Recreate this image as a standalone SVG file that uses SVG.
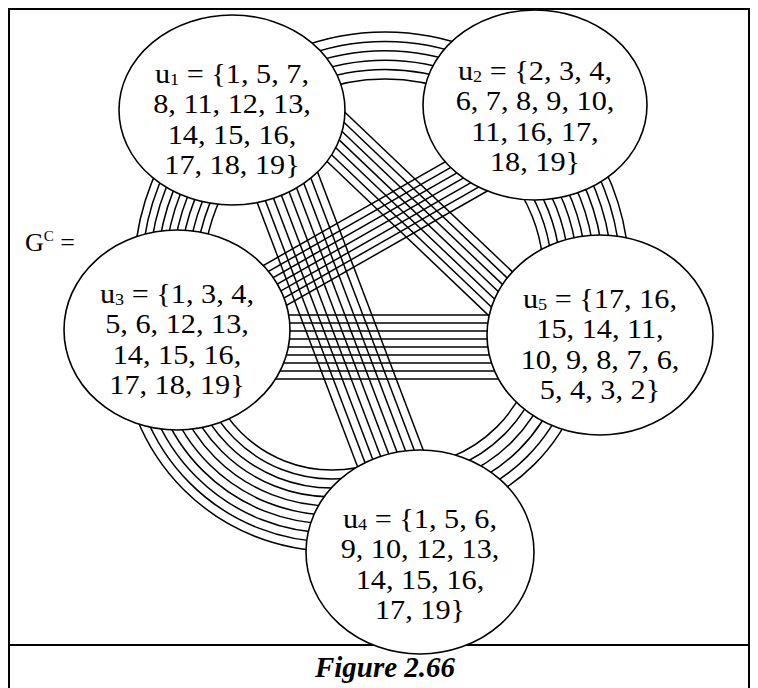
<svg xmlns="http://www.w3.org/2000/svg" width="758" height="688" viewBox="0 0 758 688">
<style>
.frame{fill:none;stroke:#000;stroke-width:2}
.node{fill:#fff;stroke:#000;stroke-width:1.6}
.e{fill:none;stroke:#000;stroke-width:1.5}
.t{font-family:"Liberation Serif","Times New Roman",serif;font-size:27.5px;fill:#000;text-anchor:middle}
.s{font-size:16.5px}
.cap{font-family:"Liberation Serif","Times New Roman",serif;font-size:29px;font-weight:bold;font-style:italic;fill:#000;text-anchor:middle}
.lbl{font-family:"Liberation Serif","Times New Roman",serif;font-size:26px;fill:#000}
</style>
<defs>
<clipPath id="cA"><rect x="0" y="0" width="758" height="140"/></clipPath>
<clipPath id="cB"><rect x="0" y="150" width="250" height="120"/></clipPath>
<clipPath id="cC"><rect x="520" y="150" width="238" height="135"/></clipPath>
<clipPath id="cD"><rect x="0" y="400" width="380" height="288"/></clipPath>
<clipPath id="cE"><rect x="440" y="390" width="318" height="298"/></clipPath>
</defs>
<rect x="0" y="0" width="758" height="688" fill="#fff"/>
<g id="frame">
<rect class="frame" x="9" y="9" width="740" height="690"/>
<line class="frame" x1="9" y1="645" x2="749" y2="645"/>
</g>
<g id="connectors">
<g id="e-u1-u2" clip-path="url(#cA)">
<circle class="e" cx="385" cy="275" r="243"/>
<circle class="e" cx="385" cy="275" r="233.6"/>
<circle class="e" cx="385" cy="275" r="224.2"/>
<circle class="e" cx="385" cy="275" r="214.8"/>
<circle class="e" cx="385" cy="275" r="205.4"/>
<circle class="e" cx="385" cy="275" r="196"/>
</g>
<g id="e-u1-u3" clip-path="url(#cB)">
<circle class="e" cx="385" cy="275" r="181.5"/>
<circle class="e" cx="385" cy="275" r="189.2"/>
<circle class="e" cx="385" cy="275" r="196.9"/>
<circle class="e" cx="385" cy="275" r="204.7"/>
<circle class="e" cx="385" cy="275" r="212.4"/>
<circle class="e" cx="385" cy="275" r="220.1"/>
<circle class="e" cx="385" cy="275" r="227.8"/>
<circle class="e" cx="385" cy="275" r="235.6"/>
<circle class="e" cx="385" cy="275" r="243.3"/>
<circle class="e" cx="385" cy="275" r="251"/>
</g>
<g id="e-u2-u5" clip-path="url(#cC)">
<circle class="e" cx="385" cy="275" r="158.5"/>
<circle class="e" cx="385" cy="275" r="167.05"/>
<circle class="e" cx="385" cy="275" r="175.6"/>
<circle class="e" cx="385" cy="275" r="184.15"/>
<circle class="e" cx="385" cy="275" r="192.7"/>
<circle class="e" cx="385" cy="275" r="201.25"/>
<circle class="e" cx="385" cy="275" r="209.8"/>
<circle class="e" cx="385" cy="275" r="218.35"/>
<circle class="e" cx="385" cy="275" r="226.9"/>
<circle class="e" cx="385" cy="275" r="235.45"/>
<circle class="e" cx="385" cy="275" r="244"/>
</g>
<g id="e-u3-u4" clip-path="url(#cD)">
<circle class="e" cx="332" cy="341" r="129"/>
<circle class="e" cx="332" cy="341" r="138"/>
<circle class="e" cx="332" cy="341" r="147"/>
<circle class="e" cx="332" cy="341" r="156"/>
<circle class="e" cx="332" cy="341" r="165"/>
<circle class="e" cx="332" cy="341" r="174"/>
<circle class="e" cx="332" cy="341" r="183"/>
<circle class="e" cx="332" cy="341" r="192"/>
<circle class="e" cx="332" cy="341" r="201"/>
<circle class="e" cx="332" cy="341" r="210"/>
</g>
<g id="e-u4-u5" clip-path="url(#cE)">
<circle class="e" cx="400" cy="330" r="137"/>
<circle class="e" cx="400" cy="330" r="147.6"/>
<circle class="e" cx="400" cy="330" r="158.2"/>
<circle class="e" cx="400" cy="330" r="168.8"/>
<circle class="e" cx="400" cy="330" r="179.4"/>
<circle class="e" cx="400" cy="330" r="190"/>
</g>
<g id="e-u3-u5">
<line class="e" x1="250" y1="315" x2="530" y2="315"/>
<line class="e" x1="250" y1="323" x2="530" y2="323"/>
<line class="e" x1="250" y1="331" x2="530" y2="331"/>
<line class="e" x1="250" y1="339" x2="530" y2="339"/>
<line class="e" x1="250" y1="347" x2="530" y2="347"/>
<line class="e" x1="250" y1="355" x2="530" y2="355"/>
<line class="e" x1="250" y1="363" x2="530" y2="363"/>
<line class="e" x1="250" y1="371" x2="530" y2="371"/>
<line class="e" x1="250" y1="379" x2="530" y2="379"/>
</g>
<g id="e-u1-u4">
<line class="e" x1="237.2" y1="150" x2="362.6" y2="480"/>
<line class="e" x1="246.2" y1="150" x2="371.6" y2="480"/>
<line class="e" x1="255.2" y1="150" x2="380.6" y2="480"/>
<line class="e" x1="264.2" y1="150" x2="389.6" y2="480"/>
<line class="e" x1="273.2" y1="150" x2="398.6" y2="480"/>
<line class="e" x1="282.2" y1="150" x2="407.6" y2="480"/>
<line class="e" x1="291.2" y1="150" x2="416.6" y2="480"/>
<line class="e" x1="300.2" y1="150" x2="425.6" y2="480"/>
<line class="e" x1="309.2" y1="150" x2="434.6" y2="480"/>
</g>
<g id="e-u1-u5">
<line class="e" x1="320" y1="154.78" x2="540" y2="364.44"/>
<line class="e" x1="320" y1="143.73" x2="540" y2="353.39"/>
<line class="e" x1="320" y1="132.67" x2="540" y2="342.33"/>
<line class="e" x1="320" y1="121.62" x2="540" y2="331.28"/>
<line class="e" x1="320" y1="110.57" x2="540" y2="320.23"/>
<line class="e" x1="320" y1="99.52" x2="540" y2="309.19"/>
<line class="e" x1="320" y1="88.47" x2="540" y2="298.13"/>
</g>
<g id="e-u2-u3">
<line class="e" x1="240" y1="278.79" x2="500" y2="130.59"/>
<line class="e" x1="240" y1="287.66" x2="500" y2="139.45"/>
<line class="e" x1="240" y1="296.52" x2="500" y2="148.32"/>
<line class="e" x1="240" y1="305.38" x2="500" y2="157.18"/>
<line class="e" x1="240" y1="314.24" x2="500" y2="166.04"/>
<line class="e" x1="240" y1="323.10" x2="500" y2="174.90"/>
<line class="e" x1="240" y1="331.96" x2="500" y2="183.77"/>
</g>
</g>
<g id="u1">
<ellipse class="node" cx="232" cy="110" rx="113" ry="95"/>
<g transform="translate(232 0) scale(1.1 1)">
<text class="t" y="82.75"><tspan x="0">u</tspan><tspan class="s" dy="2">1</tspan><tspan dy="-2"> = {1, 5, 7,</tspan><tspan x="0" dy="30.5">8, 11, 12, 13,</tspan><tspan x="0" dy="30.5">14, 15, 16,</tspan><tspan x="0" dy="30.5">17, 18, 19}</tspan></text>
</g>
</g>
<g id="u2">
<ellipse class="node" cx="535" cy="105" rx="112" ry="95"/>
<g transform="translate(535 0) scale(1.1 1)">
<text class="t" y="79.75"><tspan x="0">u</tspan><tspan class="s" dy="2">2</tspan><tspan dy="-2"> = {2, 3, 4,</tspan><tspan x="0" dy="30.5">6, 7, 8, 9, 10,</tspan><tspan x="0" dy="30.5">11, 16, 17,</tspan><tspan x="0" dy="30.5">18, 19}</tspan></text>
</g>
</g>
<g id="u3">
<ellipse class="node" cx="177" cy="330" rx="113" ry="100"/>
<g transform="translate(177 0) scale(1.1 1)">
<text class="t" y="302.75"><tspan x="0">u</tspan><tspan class="s" dy="2">3</tspan><tspan dy="-2"> = {1, 3, 4,</tspan><tspan x="0" dy="30.5">5, 6, 12, 13,</tspan><tspan x="0" dy="30.5">14, 15, 16,</tspan><tspan x="0" dy="30.5">17, 18, 19}</tspan></text>
</g>
</g>
<g id="u5">
<ellipse class="node" cx="600" cy="335" rx="113" ry="100"/>
<g transform="translate(600 0) scale(1.1 1)">
<text class="t" y="307.75"><tspan x="0">u</tspan><tspan class="s" dy="2">5</tspan><tspan dy="-2"> = {17, 16,</tspan><tspan x="0" dy="30.5">15, 14, 11,</tspan><tspan x="0" dy="30.5">10, 9, 8, 7, 6,</tspan><tspan x="0" dy="30.5">5, 4, 3, 2}</tspan></text>
</g>
</g>
<g id="u4">
<ellipse class="node" cx="420" cy="552" rx="114" ry="102"/>
<g transform="translate(420 0) scale(1.1 1)">
<text class="t" y="527.75"><tspan x="0">u</tspan><tspan class="s" dy="2">4</tspan><tspan dy="-2"> = {1, 5, 6,</tspan><tspan x="0" dy="30.5">9, 10, 12, 13,</tspan><tspan x="0" dy="30.5">14, 15, 16,</tspan><tspan x="0" dy="30.5">17, 19}</tspan></text>
</g>
</g>
<g id="label">
<text class="lbl" x="25" y="251">G<tspan font-size="15" dy="-10">C</tspan><tspan dy="10"> =</tspan></text>
</g>
<g id="caption">
<text class="cap" x="385" y="677">Figure 2.66</text>
</g>
</svg>
